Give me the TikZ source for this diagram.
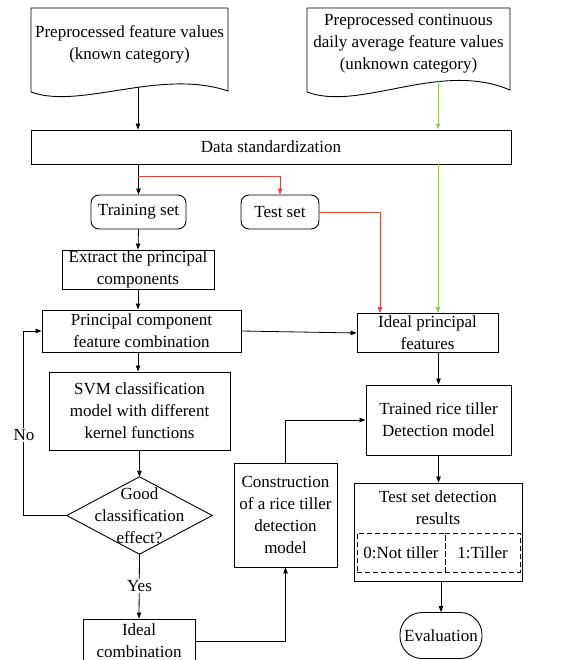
\documentclass[tikz,border=0pt]{standalone}
\usepackage{fontspec}
\setmainfont{Liberation Serif}
\usetikzlibrary{arrows.meta,calc}
\definecolor{myred}{RGB}{225,70,60}
\definecolor{mygreen}{RGB}{150,200,90}
\begin{document}
\begin{tikzpicture}[x=1pt,y=-1pt,
  every node/.style={font=\fontsize{17}{22}\selectfont, align=center},
  shp/.style={draw, line width=0.9pt},
  box/.style={shp, inner sep=0pt},
  rbox/.style={box, rounded corners=8pt},
  dbox/.style={draw, dashed, dash pattern=on 5pt off 3pt, line width=0.8pt, inner sep=0pt},
  arr/.style={-{Triangle[length=6pt,width=4.5pt]}, line width=0.8pt},
  lab/.style={fill=white, inner sep=1pt}]
\useasboundingbox (0,0) rectangle (566,660);
% documents
\draw[shp] (31,8) -- (228,8) -- (228,91) .. controls (160,68) and (80,110) .. (31,92) -- cycle;
\node (doc1) at (129.5,44) {Preprocessed feature values\\(known category)};
\draw[shp] (307,8) -- (510,8) -- (510,90) .. controls (440,60) and (360,112) .. (307,92) -- cycle;
\node (doc2) at (408.5,43) {Preprocessed continuous\\daily average feature values\\(unknown category)};
\coordinate (d1b) at (138,87.5);
\coordinate (d2b) at (438,81.5);
\coordinate (rx) at (380,0);
% nodes
\node[box, minimum width=480pt, minimum height=34pt] (ds) at (271,147) {Data standardization};
\node[rbox, minimum width=95pt, minimum height=34pt] (train) at (138.5,212) {Training set};
\node[rbox, minimum width=78pt, minimum height=34pt] (test) at (280,212) {Test set};
\node[box, minimum width=152pt, minimum height=39pt] (extract) at (138,269.5) {Extract the principal\\components};
\node[box, minimum width=199pt, minimum height=42pt] (pcfc) at (141.5,331) {Principal component\\feature combination};
\node[box, minimum width=141pt, minimum height=39pt] (ipf) at (427.5,333) {Ideal principal\\features};
\node[box, minimum width=181pt, minimum height=78pt] (svm) at (139.5,411) {SVM classification\\model with different\\kernel functions};
\node[minimum width=145pt, minimum height=77pt, inner sep=0pt] (dia) at (139.5,515.5) {};
\draw[shp] (dia.west) -- (dia.north) -- (dia.east) -- (dia.south) -- cycle;
\node (diat) at (dia.center) {Good\\classification\\effect?};
\node[box, minimum width=112pt, minimum height=44pt] (ic) at (139,641) {Ideal\\combination};
\node[box, minimum width=103pt, minimum height=104pt] (constr) at (285.5,515) {Construction\\of a rice tiller\\detection\\model};
\node[box, minimum width=145pt, minimum height=70pt] (trained) at (438.5,420) {Trained rice tiller\\Detection model};
\node[box, minimum width=168pt, minimum height=98pt] (tsdr) at (438,532) {};
\node (tsdrt) at (438,508) {Test set detection\\results};
\node[dbox, minimum width=88pt, minimum height=39pt] (r0) at (401,552.5) {0:Not tiller};
\node[dbox, minimum width=75pt, minimum height=39pt] (r1) at (482.5,552.5) {1:Tiller};
\node[box, rounded corners=22pt, minimum width=82pt, minimum height=46pt] (ev) at (441,635.5) {Evaluation};
% connectors
\draw[arr] (d1b) -- (d1b |- ds.north);
\draw[arr, mygreen] (d2b) -- (d2b |- ds.north);
\draw[arr, mygreen] (ds.south -| d2b) -- (ipf.north -| d2b);
\draw[arr] (ds.south -| train.north) -- (train.north);
\coordinate (rb) at (138,176);
\draw[arr, myred] (rb) -| (test.north);
\draw[arr, myred] (test.east) -| (ipf.north -| rx);
\draw[arr] (train.south) -- (extract.north);
\draw[arr] (extract.south) -- (extract.south |- pcfc.north);
\draw[arr] (pcfc.east) -- (ipf.west);
\draw[arr] (pcfc.south -| extract.south) -- (svm.north -| extract.south);
\draw[arr] (svm.south) -- (dia.north);
\draw[arr] (dia.west) -- ++(-43,0) |- (pcfc.west);
\node[lab] (no) at (24,435) {No};
\draw[arr] (dia.south) -- (ic.north);
\node[lab] (yes) at (139.5,586) {Yes};
\draw[arr] (ic.east) -| (constr.south);
\draw[arr] (constr.north) |- (trained.west);
\draw[arr] (ipf.south -| trained.north) -- (trained.north);
\draw[arr] (trained.south) -- (tsdr.north -| trained.south);
\draw[arr] (tsdr.south -| ev.north) -- (ev.north);
\end{tikzpicture}
\end{document}
